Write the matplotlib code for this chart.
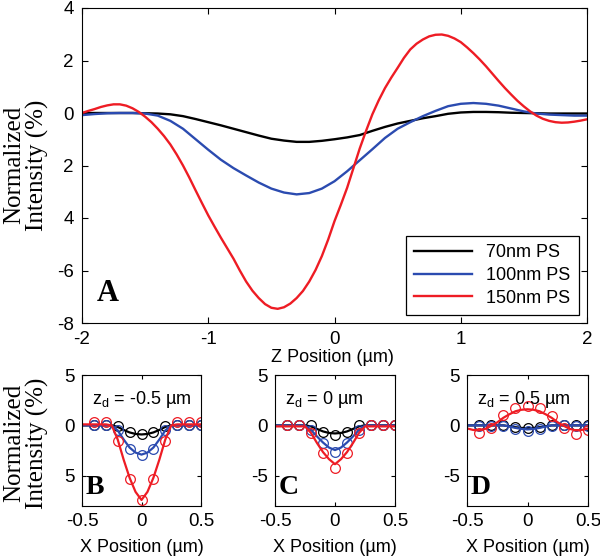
import numpy as np
import matplotlib
matplotlib.use("Agg")
import matplotlib.pyplot as plt

plt.rcParams['font.family'] = ['Liberation Sans', 'DejaVu Sans']
plt.rcParams['axes.unicode_minus'] = False
plt.rcParams['mathtext.default'] = 'regular'

# ---- main panel (A): intensity vs Z position ----
z_pos = np.linspace(-2, 2, 41)
int_70nm = [0, 0, 0, 0, 0, -0.01, -0.02, -0.05, -0.12, -0.23, -0.35, -0.47, -0.6, -0.73,
            -0.86, -0.98, -1.05, -1.1, -1.1, -1.06, -1.0, -0.93, -0.84, -0.68, -0.53, -0.4,
            -0.3, -0.2, -0.12, -0.03, 0.02, 0.04, 0.04, 0.03, 0.01, 0.0, -0.01, -0.02, -0.02,
            -0.02, -0.02]
int_100nm = [-0.08, -0.04, -0.01, 0.0, 0.0, -0.02, -0.1, -0.3, -0.6, -1.0, -1.4, -1.78, -2.1,
             -2.38, -2.65, -2.88, -3.03, -3.1, -3.05, -2.88, -2.6, -2.22, -1.8, -1.38, -0.95,
             -0.6, -0.35, -0.12, 0.08, 0.26, 0.35, 0.38, 0.35, 0.28, 0.17, 0.06, -0.02, -0.06,
             -0.08, -0.1, -0.1]
# 150nm curve read at a finer step (0.05 um)
z_fine = np.linspace(-2, 2, 81)
int_150nm = [0.0, 0.08, 0.15, 0.23, 0.29, 0.33, 0.33, 0.28, 0.18, 0.04,
             -0.14, -0.35, -0.6, -0.88, -1.2, -1.58, -2.0, -2.46, -2.95, -3.43,
             -3.9, -4.33, -4.75, -5.15, -5.55, -6.0, -6.42, -6.77, -7.05, -7.28,
             -7.42, -7.46, -7.4, -7.26, -7.05, -6.78, -6.42, -5.98, -5.45, -4.82,
             -4.12, -3.5, -2.85, -2.1, -1.35, -0.68, -0.05, 0.48, 0.95, 1.35,
             1.72, 2.1, 2.42, 2.64, 2.8, 2.92, 2.98, 2.99, 2.94, 2.84,
             2.7, 2.5, 2.28, 2.04, 1.78, 1.5, 1.22, 0.95, 0.7, 0.46,
             0.25, 0.06, -0.1, -0.22, -0.3, -0.35, -0.37, -0.36, -0.33, -0.29,
             -0.24]
series_labels = ['70nm PS', '100nm PS', '150nm PS']
colors = ['#000000', '#2b4bb0', '#ee1c24']

main_yticks = [-8, -6, -4, -2, 0, 2, 4]
main_yticklabels = ['-8', '-6', '4', '2', '0', '2', '4']

# ---- lower panels (B, C, D): intensity vs X position ----
x_line = np.linspace(-0.5, 0.5, 21)
x_pts = np.linspace(-0.4, 0.5, 10)

B_lines = [
    [0, 0, 0, 0, 0, 0, -0.15, -0.45, -0.7, -0.85, -0.9, -0.85, -0.7, -0.45, -0.15, 0, 0, 0, 0, 0, 0],
    [0, 0, 0, 0, 0, 0, -0.5, -1.4, -2.2, -2.7, -2.9, -2.7, -2.2, -1.4, -0.5, 0, 0, 0, 0, 0, 0],
    [0.1, 0.1, 0.1, 0.1, 0.1, 0, -1.4, -3.4, -5.2, -6.6, -7.4, -6.6, -5.2, -3.4, -1.4, 0, 0.1, 0.1, 0.1, 0.1, 0.1],
]
B_pts = [
    [0.0, 0.0, -0.05, -0.7, -0.9, -0.7, -0.05, 0.0, 0.0, 0.0],
    [0.0, 0.0, -0.45, -2.3, -2.9, -2.3, -0.45, 0.0, 0.0, 0.0],
    [0.35, 0.35, -1.5, -5.3, -7.4, -5.3, -1.5, 0.35, 0.35, 0.3],
]
C_lines = [
    [0, 0, 0, 0, 0, 0, -0.1, -0.35, -0.6, -0.75, -0.8, -0.75, -0.6, -0.35, -0.1, 0, 0, 0, 0, 0, 0],
    [0, 0, 0, 0, 0, 0, -0.45, -1.1, -1.7, -2.2, -2.45, -2.2, -1.7, -1.1, -0.45, 0, 0, 0, 0, 0, 0],
    [-0.1, -0.1, -0.1, -0.1, -0.1, -0.1, -0.75, -1.75, -2.65, -3.35, -3.85, -3.35, -2.65, -1.75,
     -0.75, -0.1, -0.1, -0.1, -0.1, -0.1, -0.1],
]
C_pts = [
    [0.0, 0.0, 0.0, -0.65, -1.0, -0.65, 0.0, 0.0, 0.0, 0.0],
    [0.0, 0.0, -0.45, -1.7, -2.6, -1.7, -0.45, 0.0, 0.0, 0.0],
    [0.0, 0.0, -0.75, -2.7, -4.2, -2.7, -0.75, 0.0, 0.0, 0.0],
]
D_lines = [
    [0, 0, 0, 0, 0, 0, 0, -0.08, -0.18, -0.25, -0.28, -0.25, -0.18, -0.08, 0, 0, 0, 0, 0, 0, 0],
    [0, 0, 0, 0, 0, 0, 0, -0.12, -0.25, -0.35, -0.4, -0.35, -0.25, -0.12, 0, 0, 0, 0, 0, 0, 0],
    [-0.3, -0.45, -0.5, -0.35, -0.05, 0.3, 0.75, 1.1, 1.4, 1.55, 1.6, 1.55, 1.4, 1.1, 0.75, 0.3,
     -0.05, -0.35, -0.5, -0.45, -0.3],
]
D_pts = [
    [0.0, 0.0, 0.0, -0.2, -0.3, -0.2, 0.0, 0.0, 0.0, 0.0],
    [-0.1, -0.05, -0.05, -0.4, -0.55, -0.4, -0.05, 0.0, -0.1, -0.05],
    [-0.8, -0.25, 1.05, 1.75, 1.9, 1.75, 0.9, -0.25, -0.85, -0.45],
]
zd_labels = ['z$_d$ = -0.5 \u00b5m', 'z$_d$ = 0 \u00b5m', 'z$_d$ = 0.5 \u00b5m']
panel_letters = ['B', 'C', 'D']
small_yticklabels = [['5', '0', '5'], ['-5', '0', '5'], ['-5', '0', '5']]

fig = plt.figure(figsize=(6, 5.58), dpi=100)

ax = fig.add_axes([82 / 600, 1 - 323 / 558, 505 / 600, 315 / 558])
ax.plot(z_pos, int_70nm, color=colors[0], lw=1.7, label=series_labels[0])
ax.plot(z_pos, int_100nm, color=colors[1], lw=1.7, label=series_labels[1])
ax.plot(z_fine, int_150nm, color=colors[2], lw=1.7, label=series_labels[2])
ax.set_xlim(-2, 2)
ax.set_ylim(-8, 4)
ax.set_xticks([-2, -1, 0, 1, 2])
ax.set_yticks(main_yticks)
ax.set_yticklabels(main_yticklabels)
ax.tick_params(direction='in', top=True, right=True, length=4, labelsize=13.5, pad=6)
ax.text(0.03, 0.095, 'A', transform=ax.transAxes, fontsize=22, fontweight='bold',
        family='Liberation Serif', va='center')
leg = ax.legend(loc='lower right', fontsize=13, fancybox=False, edgecolor='black',
                handlelength=3.2, borderaxespad=0.45, labelspacing=0.32, borderpad=0.45,
                framealpha=1)
leg.get_frame().set_linewidth(0.9)

fig.text(26 / 600, 1 - 165 / 558, 'Normalized\nIntensity (%)', rotation=90, ha='center',
         va='center', fontsize=18, family='Liberation Serif', linespacing=1.05)
fig.text(332 / 600, 1 - 357 / 558, 'Z Position (\u00b5m)', ha='center', va='center', fontsize=13)

lefts = [82, 275, 467]
widths = [119, 120, 121]
panels = [(B_lines, B_pts), (C_lines, C_pts), (D_lines, D_pts)]
for i in range(3):
    axs = fig.add_axes([lefts[i] / 600, 1 - 506 / 558, widths[i] / 600, 131 / 558])
    lines, pts = panels[i]
    for j in range(3):
        axs.plot(x_line, lines[j], color=colors[j], lw=1.6)
        axs.plot(x_pts, pts[j], 'o', mfc='none', mec=colors[j], ms=7, mew=0.9)
    axs.set_xlim(-0.5, 0.5)
    axs.set_ylim(-8, 5)
    axs.set_xticks([-0.5, 0, 0.5])
    axs.set_xticklabels(['-0.5', '0', '0.5'])
    axs.set_yticks([-5, 0, 5])
    axs.set_yticklabels(small_yticklabels[i])
    axs.tick_params(direction='in', top=True, right=True, length=3, labelsize=13.5, pad=5)
    axs.text(0.08, 0.81, zd_labels[i], transform=axs.transAxes, fontsize=13, va='center')
    axs.text(0.03, 0.145, panel_letters[i], transform=axs.transAxes, fontsize=20,
             fontweight='bold', family='Liberation Serif', va='center')
    cx = (lefts[i] + widths[i] / 2) / 600
    fig.text(cx, 1 - 547 / 558, 'X Position (\u00b5m)', ha='center', va='center', fontsize=13)

fig.text(26 / 600, 1 - 443 / 558, 'Normalized\nIntensity (%)', rotation=90, ha='center',
         va='center', fontsize=18, family='Liberation Serif', linespacing=1.05)

fig.savefig('out.png', dpi=100)
